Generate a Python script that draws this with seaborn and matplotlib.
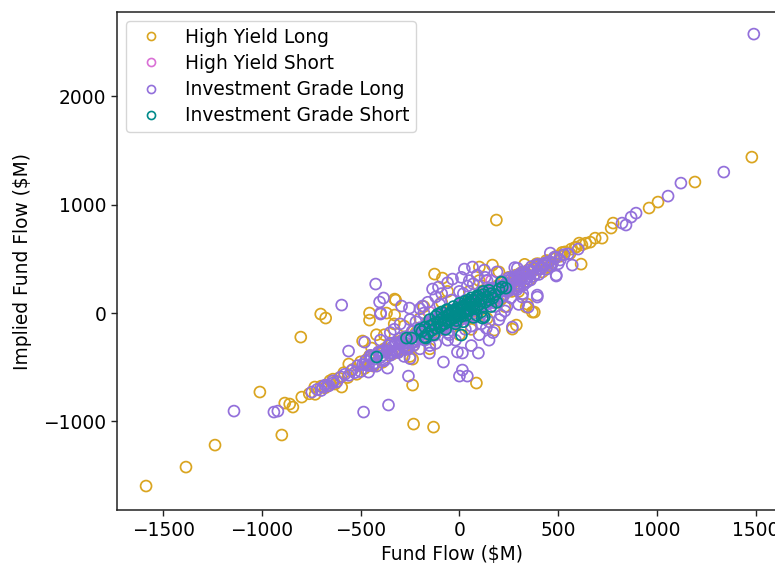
import matplotlib
matplotlib.use("Agg")
import matplotlib.pyplot as plt
from matplotlib.lines import Line2D
import seaborn as sns
import pandas as pd

categories = ["High Yield Long", "High Yield Short", "Investment Grade Long", "Investment Grade Short"]
colors = ["#DAA520", "#DA70D6", "#9370DB", "#008B8B"]

# High Yield Long
hyl_x = [-760, -730, -700, -680, -655, -630, -610, -585, -565, -540,
         -520, -500, -480, -455, -435, -410, -390, -365, -345, -320,
         -300, -280, -255, -235, -210, -190, -165, -145, -120, -100,
         -75, -55, -30, -10, 15, 35, 60, 80, 105, 125,
         150, 170, 195, 215, 240, 260, 285, 305, 330, 350,
         375, 395, 420, 440, 465, 490, 510, 535, 560, 585,
         620, 640,
         -1586, -1384, -1237, -1010, -899, -884, -859, -843, -798, -732,
         -803, -702, -677, -596, -455, -455, -490, -444, -369, -328,
         -328, -323, -237, -237, -232, -131, 86, -126, -86, 187,
         167, 101, 177, 288, 338, 369, 343, 379, 268, 616,
         515, 606, 566, 591, 662, 687, 722, 768, 778, 960,
         1005, 1192, 1480,
         -180, -60, 60, 120, -280, 230, -380, 200, 420, 400,
         380, -560, -640, 405, 390,
         -470, -430, -380, -340, -300, -260, -220, -180, -140, -95,
         -50, -5, 40, 85, 130, 175, 220, 265, 310, 355,
         400, 445, 480, 520,
         -330, -200, -90, 0, 50, 140, 250, 300, -250, -150,
         100, 200, -420, 330, 450]
hyl_y = [-745, -750, -675, -690, -625, -655, -600, -550, -595, -520,
         -565, -450, -510, -395, -490, -370, -455, -340, -290, -360,
         -235, -330, -225, -305, -165, -225, -90, -205, -80, -155,
         -5, -100, 5, -85, 75, -5, 115, 15, 150, 90,
         220, 120, 255, 135, 280, 230, 350, 250, 365, 400,
         405, 435, 445, 485, 445, 525, 525, 565, 550, 605,
         630, 645,
         -1597, -1422, -1219, -729, -1126, -831, -840, -868, -776, -683,
         -222, -9, -46, -683, 0, -65, -258, -323, 0, -18,
         129, 120, -425, -665, -1025, -1053, -646, 360, 323, 859,
         443, 425, -157, -111, 55, 9, 83, 9, -148, 452,
         535, 646, 591, 609, 655, 692, 692, 785, 831, 970,
         1025, 1210, 1440,
         60, 200, -150, 250, -120, 60, -200, 380, 380, 450,
         430, -470, -610, 410, 455,
         -430, -470, -330, -380, -260, -300, -180, -230, -90, -130,
         10, -60, 100, 30, 190, 130, 280, 200, 370, 310,
         455, 420, 500, 560,
         -100, -50, 100, -200, 200, -50, 330, 200, -400, -330,
         300, 100, -200, 450, 480]

# High Yield Short
hys_x = [-152, -100, -40, 20, 60, 100, 140, 162, -60, 0]
hys_y = [9, -80, -30, 10, 50, 80, 120, 300, -70, -20]

# Investment Grade Long
igl_x = [-720, -700, -680, -660, -640, -620, -600, -580, -560, -545,
         -530, -515, -500, -490, -475, -460, -450, -440, -430, -420,
         -410, -400, -390, -380, -370, -360, -350, -340, -330, -320,
         -310, -300, -295, -285, -275, -265, -255, -250, -240, -230,
         -222, -215, -205, -198, -190, -180, -172, -165, -155, -148,
         -140, -130, -122, -115, -105, -98, -90, -80, -72, -65,
         -55, -48, -40, -30, -22, -15, -5, 2, 10, 20,
         28, 35, 45, 52, 60, 70, 78, 85, 95, 102,
         110, 120, 128, 135, 145, 152, 160, 170, 178, 185,
         195, 202, 210, 220, 228, 235, 245, 252, 260, 270,
         278, 285, 295, 302, 310, 320, 328, 335, 345, 352,
         360, 370, 378, 385, 395, 402, 410, 420, 430, 440,
         455, 470, 490, 510, 530, 550,
         -380, -350, -320, -290, -260, -235, -210, -185, -160, -135,
         -110, -85, -60, -35, -10, 15, 40, 65, 90, 115,
         140, 165, 190, 215, 240, 265, 290, 315, 340, 365,
         -450, -420, -395, -345, -305, -270, -245, -225, -200, -175,
         -150, -125, -100, -75, -50, -25, 0, 25, 50, 75,
         100, 125, 150, 175, 200, 225, 250, 275, 300, 325,
         -480, -465, -445, -425, -405, -385, -365, -345, -325, -305,
         -285, -265, -245, -225, -205, -185, -165, -145, -125, -105,
         -85, -65, -45, -25, -5, 15, 35, 55, 75, 95,
         115, 135, 155, 175, 195, 215, 235, 255, 275, 295,
         315, 335, 355, 375, 395, 415, 435, 460, 480, 500,
         1490, 1338, 1121, 1056, 823, 843, 869, 894, 601, 571,
         490, 460, 490, -1141, -939, -919, -747, -692, -667, -641,
         -596, -561, -485, -359, -399, -480, -364, -460, -424, -404,
         -384, -399, -293, -253, -187, -136, -106, -35, 25, 66,
         126, -258, -81, -10, 15, 15, 40, 0, -152, 96,
         136, 268, 318, 394, 394, 348, 293,
         -60, 10, 90, 140, -90, 40, 160, -160, -200, -250,
         -330, -280, -200, -120, 60, 100, 150, 200, 230, 300,
         -20, 60, -60, 120, 20, -40, 80, 180,
         -300, -250, -180, -150, -100, -50, 0, 30, 70, 110,
         150, 190, 240, 280, 320, -350, -220, -120, 50, 130,
         210, 260, -400, -60, 170]
igl_y = [-705, -715, -665, -670, -625, -635, -590, -565, -575, -530,
         -550, -485, -540, -475, -440, -485, -405, -485, -425, -395,
         -360, -410, -350, -430, -360, -300, -390, -310, -350, -275,
         -365, -285, -260, -310, -220, -310, -250, -225, -170, -295,
         -202, -245, -155, -208, -150, -230, -162, -105, -195, -118,
         -160, -85, -177, -100, -70, -123, -35, -125, -67, -40,
         -5, -58, 0, -80, -12, 45, -45, 32, -10, 65,
         -27, 50, 80, 27, 115, 25, 83, 110, 165, 37,
         130, 90, 178, 125, 185, 102, 170, 230, 138, 215,
         175, 247, 155, 235, 263, 210, 300, 207, 265, 295,
         328, 275, 335, 252, 320, 380, 288, 365, 325, 397,
         305, 385, 413, 360, 450, 357, 415, 445, 460, 405,
         475, 455, 515, 490, 540, 545,
         -440, -280, -350, -270, -330, -170, -225, -145, -225, -60,
         -145, -5, -135, 25, -60, 85, -40, 120, 45, 190,
         80, 215, 120, 295, 200, 325, 215, 360, 285, 430,
         -390, -490, -365, -365, -235, -335, -230, -265, -135, -250,
         -115, -205, -25, -135, 0, -95, 80, -30, 95, 0,
         160, 75, 220, 95, 240, 165, 325, 230, 355, 260,
         -475, -480, -420, -460, -360, -390, -350, -370, -290, -350,
         -280, -280, -220, -260, -160, -190, -150, -170, -90, -150,
         -80, -80, -20, -60, 40, 10, 50, 30, 110, 50,
         120, 120, 180, 140, 240, 210, 250, 230, 310, 250,
         320, 320, 380, 340, 440, 410, 450, 435, 515, 455,
         2576, 1302, 1200, 1080, 831, 813, 886, 923, 591, 443,
         342, 554, 351, -905, -914, -905, -729, -683, -674, -646,
         74, -351, -914, -849, 0, -268, -508, -545, 268, 102,
         139, -9, 65, 46, 65, 222, 240, 314, 406, 425,
         397, -582, -452, -360, -369, -526, -582, -582, -369, -369,
         -139, -129, 148, 148, 166, 55, 415,
         280, 330, 350, 300, 180, 250, 230, 100, 40, -60,
         -150, -400, -330, -280, -120, -200, -250, -60, 20, 80,
         -250, -300, -180, -30, 180, 120, -40, 60,
         -100, -420, 0, -300, 80, -200, 200, -150, 270, -100,
         -80, 380, 60, 420, 180, -180, -80, 150, 300, 330,
         -20, 140, -250, -250, -180]

# Investment Grade Short
igs_x = [-190, -175, -160, -150, -140, -130, -120, -110, -100, -95,
         -90, -80, -75, -70, -60, -55, -50, -45, -40, -35,
         -30, -25, -20, -15, -10, -5, 0, 5, 10, 15,
         20, 25, 30, 35, 40, 45, 50, 55, 60, 65,
         70, 75, 80, 90, 95, 100, 110, 120, 130, 140,
         150, 160, 170, 180, -65, -15, 35, 85, -110, 45,
         -150, -120, -90, -60, -30, 0, 30, 60, 90, 120,
         150, -170, -130, -70, -20, 20, 70, 110, 160, 190,
         200,
         -419, -268, -242, -177, 10, 126, 86, 212, 217, 116,
         235, -200]
igs_y = [-170, -130, -190, -120, -160, -100, -140, -90, -130, -60,
         -110, -40, -100, -70, -20, -80, -10, -60, 10, -40,
         -50, 20, -30, 40, -20, 30, -10, 50, -30, 60,
         0, 70, 10, 40, 80, 20, 100, 30, 90, 50,
         120, 40, 110, 60, 150, 80, 130, 170, 100, 150,
         120, 180, 140, 170, 30, -70, -20, 140, -10, 120,
         -60, -30, 10, 30, 60, 90, 110, 140, 160, 200,
         210, -230, -200, -150, -100, -80, -40, 10, 60, 100,
         220,
         -406, -231, -231, -222, -203, -37, -18, 286, 240, -46,
         230, -150]

frames = []
for name, xs, ys in zip(categories, [hyl_x, hys_x, igl_x, igs_x], [hyl_y, hys_y, igl_y, igs_y]):
    frames.append(pd.DataFrame({"Fund Flow ($M)": xs, "Implied Fund Flow ($M)": ys, "Group": name}))
df = pd.concat(frames, ignore_index=True)

sns.set_style("ticks")
plt.rcParams["font.family"] = ["DejaVu Sans"]
plt.rcParams["text.color"] = "black"

fs = 13.4
fig = plt.figure(figsize=(7.75, 5.63), dpi=100)
ax = fig.add_axes([0.151, 0.094, 0.865, 0.8845])

sns.scatterplot(data=df, x="Fund Flow ($M)", y="Implied Fund Flow ($M)", hue="Group",
                hue_order=categories, palette=dict(zip(categories, colors)),
                s=62, legend=False, ax=ax)
coll = ax.collections[0]
fcs = coll.get_facecolors()
coll.set_edgecolors(fcs)
coll.set_facecolors("none")
coll.set_linewidths(1.25)

ax.set_xlim(-1733, 1660)
ax.set_ylim(-1819, 2779)
ax.set_xticks([-1500, -1000, -500, 0, 500, 1000, 1500])
ax.set_yticks([-1000, 0, 1000, 2000])
for sp in ax.spines.values():
    sp.set_color("#222222")
    sp.set_linewidth(1.1)
ax.tick_params(axis="both", labelsize=fs, length=4.2, width=1.0, color="#222222", labelcolor="black")
ax.set_xlabel("Fund Flow ($M)", fontsize=fs, color="black")
ax.set_ylabel("Implied Fund Flow ($M)", fontsize=fs, color="black", labelpad=8)

handles = [Line2D([0], [0], marker="o", linestyle="none", markersize=5.8,
                  markerfacecolor="none", markeredgecolor=c, markeredgewidth=1.2)
           for c in colors]
leg = ax.legend(handles, categories, loc="upper left", fontsize=fs, frameon=True,
                framealpha=0.8, edgecolor="#cccccc", fancybox=True,
                labelspacing=0.38, borderpad=0.35)
for t in leg.get_texts():
    t.set_color("black")

fig.savefig("out.png", dpi=100)
